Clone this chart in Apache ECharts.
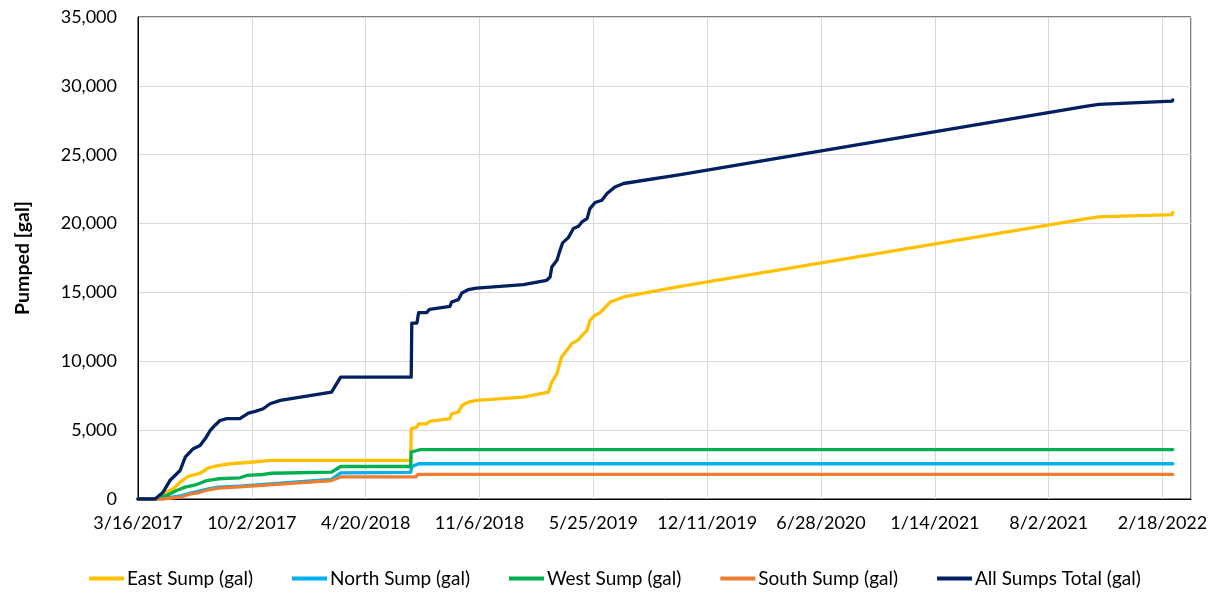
<!DOCTYPE html>
<html>
<head>
<meta charset="utf-8">
<script src="https://cdn.jsdelivr.net/npm/echarts@6/dist/echarts.min.js"></script>
<style>
  html, body { margin: 0; padding: 0; background: #fff; }
  #chart1 { width: 1215px; height: 597px; }
</style>
</head>
<body>
<div id="chart1"></div>
<script>
// x values are days counted from 3/16/2017
var startDate = Date.UTC(2017, 2, 16);
var seriesNames = ['East Sump (gal)', 'North Sump (gal)', 'West Sump (gal)', 'South Sump (gal)', 'All Sumps Total (gal)'];
var seriesColors = ['#FFC000', '#00B0F0', '#00B050', '#ED7D31', '#002060'];

var eastSump = [[0,0],[30,0],[44,380],[62,740],[74,1220],[88,1640],[109,1870],[124,2270],[141,2430],[162,2560],[197,2670],[235,2800],
    [479,2800],[480,5100],[490,5220],[493,5460],[507,5460],[512,5630],[548,5830],[551,6190],[563,6310],[569,6790],[580,7030],[595,7160],
    [677,7400],[680,7520],[721,7760],[727,8490],[736,9100],[744,10300],[753,10790],[762,11280],[774,11570],[780,11880],[789,12240],
    [794,12970],[803,13340],[812,13530],[821,13940],[830,14300],[853,14670],[953,15440],[1667,20360],[1688,20480],[1817,20650],[1818,20800]];
var northSump = [[0,0],[40,0],[74,220],[94,450],[124,740],[141,860],[179,940],[340,1420],[356,1900],[479,1930],[481,2350],[493,2560],[1818,2560]];
var westSump = [[0,0],[30,0],[50,250],[68,620],[83,860],[103,1050],[121,1340],[141,1470],[179,1540],[191,1710],[220,1780],[235,1870],
    [340,1950],[356,2360],[479,2360],[480,3400],[490,3520],[496,3590],[1818,3590]];
var southSump = [[0,0],[44,0],[74,130],[94,380],[109,490],[124,670],[141,790],[179,880],[340,1340],[356,1600],[488,1600],[492,1790],[1818,1790]];
var allSumps = [[0,0],[30,0],[44,490],[56,1340],[74,2070],[83,3040],[97,3650],[109,3890],[118,4370],[127,4980],[135,5340],[144,5700],
    [156,5830],[179,5830],[194,6240],[206,6360],[220,6550],[232,6920],[250,7160],[340,7760],[356,8850],[480,8850],[481,12775],[490,12775],
    [493,13530],[507,13530],[512,13770],[548,13990],[551,14300],[563,14480],[569,14960],[580,15200],[595,15320],[677,15570],[680,15680],
    [718,15880],[724,16120],[727,16840],[736,17330],[741,18000],[746,18600],[756,18980],[765,19640],[774,19800],[780,20120],[789,20360],
    [794,21090],[803,21530],[815,21690],[824,22180],[838,22660],[853,22910],[953,23560],[1667,28520],[1688,28650],[1817,28890],[1818,28980]];

function dayLabel(v) {
    var d = new Date(startDate + v * 86400000);
    return (d.getUTCMonth() + 1) + '/' + d.getUTCDate() + '/' + d.getUTCFullYear();
}

function setchart(chartName) {
    var myChart = echarts.init(document.getElementById(chartName));
    var allData = [eastSump, northSump, westSump, southSump, allSumps];
    var series = [];
    for (var i = 0; i < allData.length; i++) {
        series.push({
            name: seriesNames[i],
            type: 'line',
            data: allData[i],
            showSymbol: false,
            lineStyle: {width: 3.3, color: seriesColors[i], cap: 'round', join: 'round'},
            itemStyle: {color: seriesColors[i]}
        });
    }
    var option = {
        animation: false,
        textStyle: {fontFamily: 'Lato'},
        grid: {left: 138, right: 24, top: 17, bottom: 98, show: true, borderColor: '#000', borderWidth: 1},
        legend: {
            data: seriesNames,
            bottom: 4,
            left: 84,
            icon: 'rect',
            itemWidth: 35,
            itemHeight: 4,
            itemGap: 39,
            textStyle: {fontFamily: 'Lato', fontSize: 19, color: '#000', padding: [0, 0, 0, -2]}
        },
        xAxis: {
            type: 'value',
            min: 0,
            max: 1850,
            interval: 200,
            axisLine: {show: true, lineStyle: {color: '#000', width: 1}},
            axisTick: {show: false},
            splitLine: {show: true, lineStyle: {color: '#d9d9d9', width: 1}},
            axisLabel: {
                formatter: dayLabel,
                fontFamily: 'Lato', fontSize: 18, color: '#000', margin: 15,
                showMaxLabel: false
            }
        },
        yAxis: {
            type: 'value',
            min: 0,
            max: 35000,
            interval: 5000,
            name: 'Pumped [gal]',
            nameLocation: 'middle',
            nameGap: 105,
            nameTextStyle: {fontFamily: 'Lato', fontSize: 19.5, fontWeight: 'bold', color: '#000'},
            axisLine: {show: true, lineStyle: {color: '#000', width: 1}},
            axisTick: {show: false},
            splitLine: {show: true, lineStyle: {color: '#d9d9d9', width: 1}},
            axisLabel: {
                formatter: function (v) { return v.toLocaleString('en-US'); },
                fontFamily: 'Lato', fontSize: 18, color: '#000', margin: 21
            }
        },
        series: series
    };
    myChart.setOption(option);
}

setchart('chart1');
</script>
</body>
</html>
